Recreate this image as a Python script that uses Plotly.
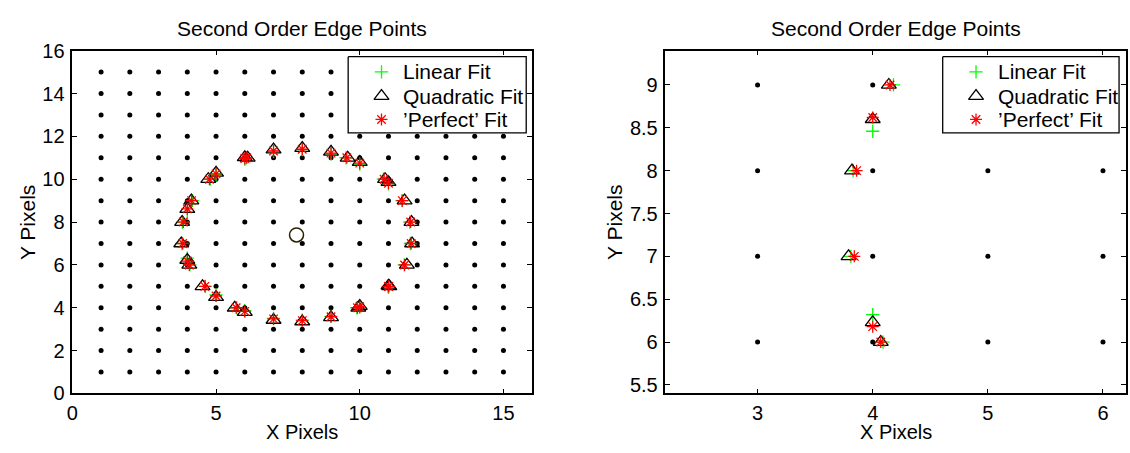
import plotly.graph_objects as go

# Integer pixel lattice (pixel centres)
grid_cols = list(range(1, 16))
grid_rows = list(range(1, 16))

# Sub-pixel edge locations where the circle crosses pixel rows/columns
perfect_x = [4.00, 4.00, 5.00, 5.00, 6.00, 6.00, 7.00, 7.00, 8.00, 8.00, 9.00, 9.00,
             10.00, 10.00, 11.00, 11.00, 5.70, 9.92, 4.61, 11.01, 4.07, 11.56, 3.84, 11.79,
             3.86, 11.77, 4.15, 11.48, 4.77, 10.85, 6.07, 9.55]
perfect_y = [8.62, 6.18, 10.25, 4.55, 10.97, 3.83, 11.32, 3.48, 11.40, 3.40, 11.22, 3.58,
             10.75, 4.05, 9.81, 4.99, 4.00, 4.00, 5.00, 5.00, 6.00, 6.00, 7.00, 7.00,
             8.00, 8.00, 9.00, 9.00, 10.00, 10.00, 11.00, 11.00]

quadratic_x = [4.00, 4.00, 5.00, 5.00, 6.00, 6.00, 7.00, 7.00, 8.00, 8.00, 9.00, 9.00,
               10.00, 10.00, 11.00, 11.00, 5.65, 9.95, 4.53, 11.03, 4.07, 11.64, 3.79, 11.82,
               3.82, 11.80, 4.14, 11.56, 4.73, 10.88, 6.10, 9.58]
quadratic_y = [8.60, 6.23, 10.30, 4.50, 11.02, 3.80, 11.38, 3.43, 11.45, 3.36, 11.28, 3.55,
               10.80, 4.08, 9.86, 5.03, 4.00, 4.00, 5.00, 5.00, 6.00, 6.00, 7.00, 7.00,
               8.00, 8.00, 9.00, 9.00, 10.00, 10.00, 11.00, 11.00]

linear_x = [4.00, 4.00, 5.00, 5.00, 6.00, 6.00, 7.00, 7.00, 8.00, 8.00, 9.00, 9.00,
            10.00, 10.00, 11.00, 11.00, 5.72, 9.90, 4.63, 10.99, 4.09, 11.55, 3.81, 11.76,
            3.83, 11.74, 4.18, 11.47, 4.80, 10.82, 6.05, 9.52]
linear_y = [8.46, 6.32, 10.22, 4.60, 10.93, 3.86, 11.30, 3.50, 11.38, 3.42, 11.18, 3.60,
            10.70, 4.02, 9.78, 4.95, 4.00, 4.00, 5.00, 5.00, 6.00, 6.00, 7.00, 7.00,
            8.00, 8.00, 9.00, 9.00, 10.00, 10.00, 11.00, 11.00]

center_x = [7.8]
center_y = [7.4]

left_xticks = [0, 5, 10, 15]
left_yticks = [0, 2, 4, 6, 8, 10, 12, 14, 16]
right_xticks = [3, 4, 5, 6]
right_yticks = [5.5, 6, 6.5, 7, 7.5, 8, 8.5, 9]
right_yticklabels = ["5.5", "6", "6.5", "7", "7.5", "8", "8.5", "9"]

legend_labels = ["Linear Fit", "Quadratic Fit", "\u2019Perfect\u2019 Fit"]

W, H = 1130, 453
FONT = "Liberation Sans, Arial, Helvetica, sans-serif"

STYLE_LINEAR = dict(symbol="cross-thin-open", size=9.5, color="#00ff00",
                    line=dict(width=1.3, color="#00ff00"))
STYLE_QUAD = dict(symbol="triangle-up-open", size=13, color="black",
                  line=dict(width=1.3, color="black"))
STYLE_PERFECT = dict(symbol="asterisk-open", size=10, color="#ff0000",
                     line=dict(width=1.3, color="#ff0000"))

grid_x = [c for r in grid_rows for c in grid_cols]
grid_y = [r for r in grid_rows for c in grid_cols]

fig = go.Figure()

for xa, ya in [("x", "y"), ("x2", "y2")]:
    fig.add_trace(go.Scatter(x=grid_x, y=grid_y, mode="markers", xaxis=xa, yaxis=ya,
                             marker=dict(symbol="circle", size=5, color="black"),
                             hoverinfo="skip"))
    fig.add_trace(go.Scatter(x=center_x, y=center_y, mode="markers", xaxis=xa, yaxis=ya,
                             marker=dict(symbol="circle-open", size=14, color="#2a2200",
                                         line=dict(width=1.5, color="#2a2200")),
                             hoverinfo="skip"))
    fig.add_trace(go.Scatter(x=linear_x, y=linear_y, mode="markers", xaxis=xa, yaxis=ya,
                             name=legend_labels[0], marker=STYLE_LINEAR))
    fig.add_trace(go.Scatter(x=quadratic_x, y=quadratic_y, mode="markers", xaxis=xa, yaxis=ya,
                             name=legend_labels[1], marker=STYLE_QUAD))
    fig.add_trace(go.Scatter(x=perfect_x, y=perfect_y, mode="markers", xaxis=xa, yaxis=ya,
                             name=legend_labels[2], marker=STYLE_PERFECT))

# Legend boxes drawn on a pixel-unit overlay axis spanning the whole page
legend_box_top, legend_box_bottom = 48, 128
legend_rows = [64, 89.5, 114]
for bx0, bx1 in [(344, 523), (941.7, 1119)]:
    fig.add_trace(go.Scatter(x=[bx0, bx1, bx1, bx0, bx0],
                             y=[legend_box_top, legend_box_top, legend_box_bottom,
                                legend_box_bottom, legend_box_top],
                             mode="lines", fill="toself", fillcolor="white",
                             line=dict(color="black", width=1.3),
                             xaxis="x3", yaxis="y3", hoverinfo="skip"))
    for style, row, label in zip([STYLE_LINEAR, STYLE_QUAD, STYLE_PERFECT], legend_rows,
                                 legend_labels):
        fig.add_trace(go.Scatter(x=[bx0 + 33.5], y=[row], mode="markers", marker=style,
                                 xaxis="x3", yaxis="y3", hoverinfo="skip"))
        fig.add_annotation(text=label, xref="x3", yref="y3", x=bx0 + 53.5, y=row,
                           showarrow=False, xanchor="left", yanchor="middle",
                           font=dict(family=FONT, size=21, color="black"))

ydom = [(H - 402) / H, (H - 41.7) / H]
axis_common = dict(showgrid=False, zeroline=False, showline=True, linecolor="black",
                   linewidth=1.5, mirror="ticks", ticks="inside", ticklen=5,
                   tickcolor="black", tickwidth=1,
                   tickfont=dict(family=FONT, size=20, color="black"))

fig.update_layout(
    width=W, height=H,
    margin=dict(l=0, r=0, t=0, b=0),
    paper_bgcolor="white", plot_bgcolor="rgba(0,0,0,0)",
    font=dict(family=FONT, size=20, color="black"),
    showlegend=False,
    xaxis=dict(domain=[66.7 / W, 529 / W], range=[0, 16], tickvals=left_xticks,
               anchor="y", ticklabelstandoff=1, **axis_common),
    yaxis=dict(domain=ydom, range=[0, 16], tickvals=left_yticks, anchor="x",
               ticklabelstandoff=2, **axis_common),
    xaxis2=dict(domain=[663 / W, 1126 / W], range=[2.2, 6.2], tickvals=right_xticks,
                anchor="y2", ticklabelstandoff=1, **axis_common),
    yaxis2=dict(domain=ydom, range=[5.4, 9.4], tickvals=right_yticks,
                ticktext=right_yticklabels, anchor="x2", ticklabelstandoff=2, **axis_common),
    xaxis3=dict(domain=[0, 1], range=[0, W], visible=False, fixedrange=True, anchor="y3"),
    yaxis3=dict(domain=[0, 1], range=[H, 0], visible=False, fixedrange=True, anchor="x3"),
)

def add_text(text, x, y, angle=0, size=21):
    fig.add_annotation(text=text, xref="paper", yref="paper", x=x / W, y=1 - y / H,
                       showarrow=False, textangle=angle, xanchor="center", yanchor="middle",
                       borderpad=0, font=dict(family=FONT, size=size, color="black"))

add_text("Second Order Edge Points", 298, 18)
add_text("Second Order Edge Points", 894.5, 18)
add_text("X Pixels", 298, 443, size=20)
add_text("X Pixels", 894.5, 443, size=20)
add_text("Y Pixels", 21, 222, -90)
add_text("Y Pixels", 611, 222, -90)

fig.write_html("out.html")
